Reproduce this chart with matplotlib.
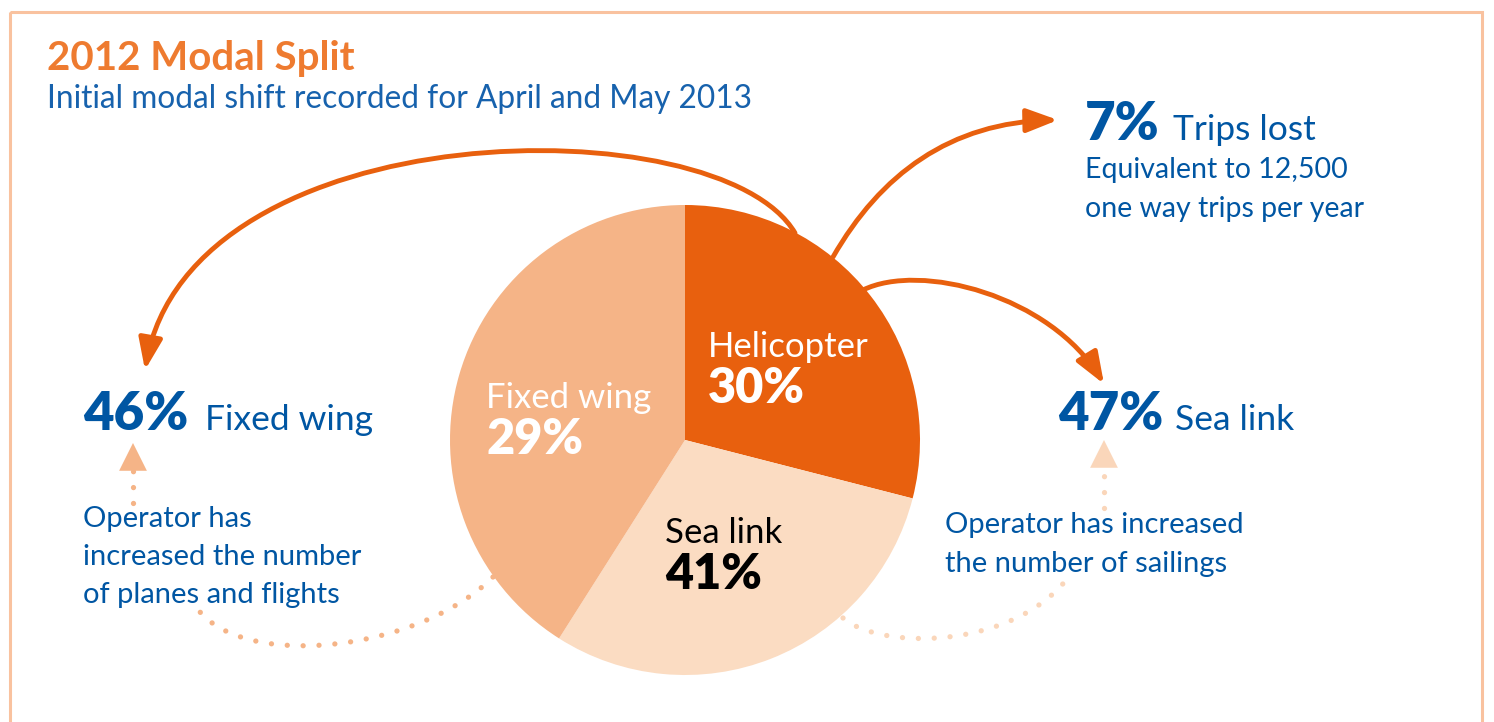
import matplotlib.pyplot as plt
from matplotlib.patches import FancyArrowPatch, PathPatch, Rectangle
from matplotlib.path import Path

plt.rcParams['font.family'] = ['Lato', 'DejaVu Sans']

# 2012 modal split (slice sizes as drawn, figures as printed)
modes = ['Helicopter', 'Sea link', 'Fixed wing']
shares = [29, 30, 41]
pct_labels = ['30%', '41%', '29%']
slice_colors = ['#E8600E', '#FBDCC2', '#F5B487']
label_colors = ['white', 'black', 'white']

# shift recorded for April and May 2013
shift_pct = ['46%', '47%', '7%']
shift_names = ['Fixed wing', 'Sea link', 'Trips lost']

orange = '#E8600E'
blue = '#0056A3'

fig = plt.figure(figsize=(14.94, 7.22), dpi=100)
ax = fig.add_axes([0, 0, 1, 1])

# axe y inverse -> startangle -90 = haut, sens horaire a l'ecran
ax.pie(shares, colors=slice_colors, startangle=-90, counterclock=True,
       center=(685, 440), radius=235, wedgeprops=dict(linewidth=0))
ax.set_xlim(0, 1494)
ax.set_ylim(722, 0)
ax.axis('off')

# cadre
ax.add_patch(Rectangle((10, 12), 1472, 760, fill=False, edgecolor='#F9C29F', lw=2.2))

ax.text(47, 70, '2012 Modal Split', fontsize=29, fontweight='bold', color='#EE7B30')
ax.text(47, 108, 'Initial modal shift recorded for April and May 2013', fontsize=22.8, color='#1762AD')

# etiquettes du camembert
pie_pos = [(708, 357), (665, 543), (486, 408)]
for (x, y), name, pct, c in zip(pie_pos, modes, pct_labels, label_colors):
    ax.text(x, y, name, fontsize=25, color=c, va='baseline')
    ax.text(x, y + 46, pct, fontsize=35, fontweight='heavy', color=c, va='baseline')

# chiffres du report modal
shift_pos = [(83, 205, 430), (1058, 1175, 430), (1085, 1173, 140)]
for (x, x2, y), pct, name in zip(shift_pos, shift_pct, shift_names):
    ax.text(x, y, pct, fontsize=38, fontweight='heavy', color=blue, va='baseline')
    ax.text(x2, y, name, fontsize=25.5, color=blue, va='baseline')

for i, line in enumerate(['Equivalent to 12,500', 'one way trips per year']):
    ax.text(1085, 178 + 39 * i, line, fontsize=20.5, color=blue, va='baseline')
for i, line in enumerate(['Operator has', 'increased the number', 'of planes and flights']):
    ax.text(83, 527 + 38 * i, line, fontsize=21, color=blue, va='baseline')
for i, line in enumerate(['Operator has increased', 'the number of sailings']):
    ax.text(945, 533 + 39 * i, line, fontsize=21, color=blue, va='baseline')

# fleches pleines
C4 = [Path.MOVETO, Path.CURVE4, Path.CURVE4, Path.CURVE4]
curves = [
    [(795, 233), (720, 105), (190, 110), (145, 370)],
    [(833, 257), (880, 175), (950, 122), (1058, 120)],
    [(863, 290), (920, 262), (1050, 295), (1104, 384)],
]
for pts in curves:
    ax.add_patch(FancyArrowPatch(path=Path(pts, C4), arrowstyle='-|>,head_length=0.95,head_width=0.36',
                                 mutation_scale=20, color=orange, lw=3.5, zorder=3))

# fleches pointillees
dotted = [
    ([(493, 577), (420, 650), (250, 670), (200, 612)], (133, 503), (133, 470), (133, 443), '#F5B487'),
    ([(843, 618), (880, 650), (1010, 650), (1067, 579)], (1104, 508), (1104, 470), (1104, 440), '#FAD6BA'),
]
for pts, v0, v1, tip, c in dotted:
    ax.add_patch(PathPatch(Path(pts, C4), fill=False, edgecolor=c, lw=3.8,
                           linestyle=(0, (0.01, 3.0)), capstyle='round'))
    ax.plot([v0[0], v1[0]], [v0[1], v1[1]], color=c, lw=3.8, linestyle=(0, (0.01, 3.0)),
            dash_capstyle='round')
    ax.annotate('', xy=tip, xytext=(tip[0], tip[1] + 27),
                arrowprops=dict(arrowstyle='-|>,head_length=1.0,head_width=0.5', mutation_scale=20,
                                color=c, lw=0, shrinkA=0, shrinkB=0))

plt.savefig('out.png', dpi=100)
